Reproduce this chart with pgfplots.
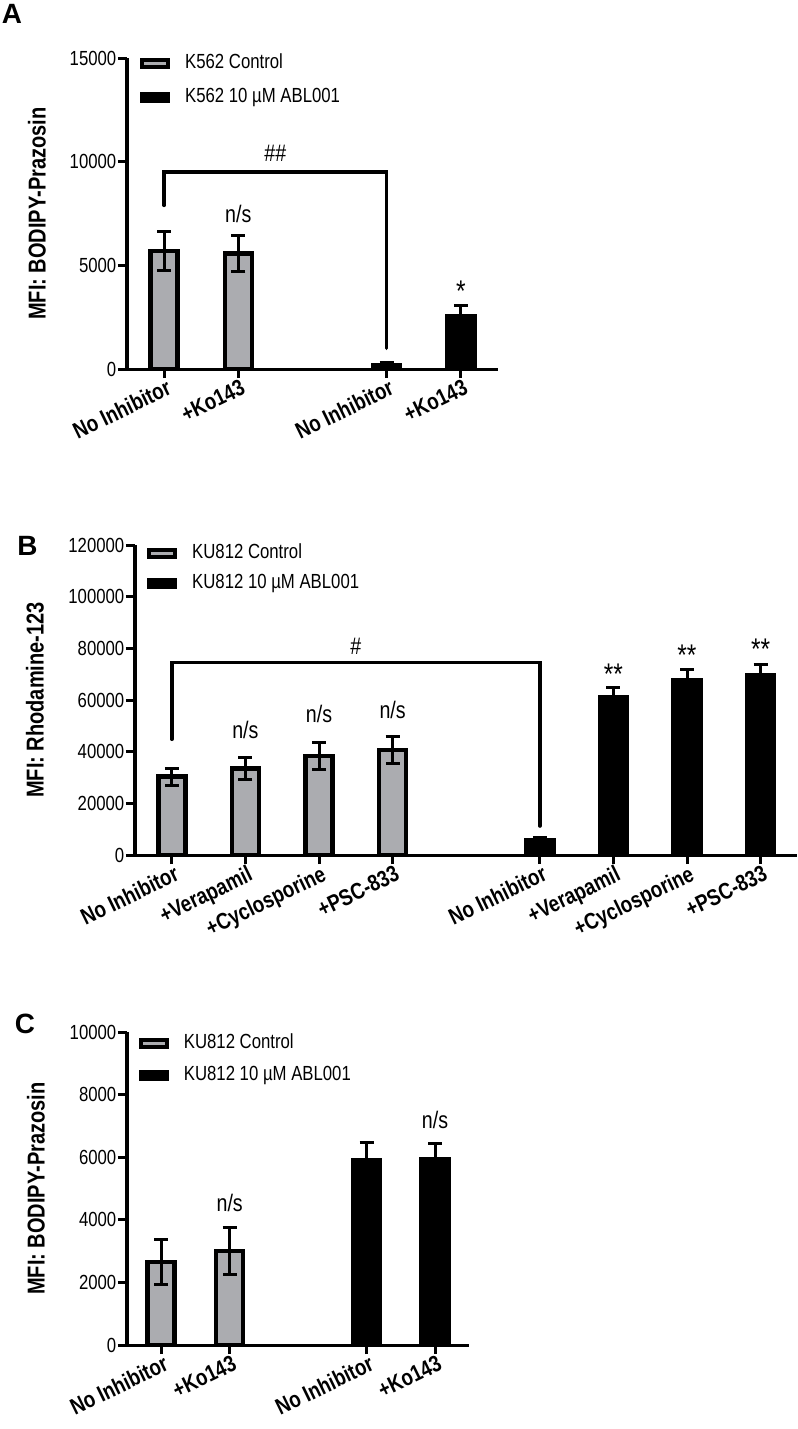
\documentclass[border=0pt]{standalone}
\usepackage{fontspec}
\setmainfont{Liberation Sans}
\newfontfamily\narrowfont[FakeStretch=0.82]{Liberation Sans}
\usepackage{pgfplots}
\pgfplotsset{compat=1.18}
\pgfkeys{/pgf/number format/.cd, fixed, 1000 sep={}, assume math mode=true}
\definecolor{bargray}{RGB}{171,172,176}

\tikzset{
  ann/.style={font=\narrowfont\fontsize{24}{26}\selectfont},
  star/.style={font=\narrowfont\fontsize{30}{32}\selectfont, yshift=-6bp},
}
\pgfplotsset{
  panel/.style={
    scale only axis, anchor=south west,
    axis x line*=bottom, axis y line*=left,
    axis line style={-, line width=3bp, black},
    tick align=outside, major tick length=9bp,
    every tick/.style={black, line width=3bp},
    ymin=0, xmin=-0.5,
    scaled y ticks=false,
    y tick label style={font=\narrowfont\fontsize{20.5}{21}\selectfont, inner xsep=1.5bp,
      /pgf/number format/fixed, /pgf/number format/1000 sep={}, /pgf/number format/assume math mode=true},
    x tick label style={font=\narrowfont\bfseries\fontsize{23}{24}\selectfont, rotate=26, anchor=north east, inner sep=1bp, xshift=2bp},
    ylabel style={font=\narrowfont\bfseries\fontsize{24.5}{26}\selectfont, anchor=center},
    clip=false,
    legend cell align=left,
    legend style={draw=none, fill=none, inner sep=0pt,
      font=\narrowfont\fontsize{20.5}{21}\selectfont,
      nodes={inner sep=0pt, text height=14bp, text depth=4bp},
      column sep=15bp, anchor=north west},
  },
  mylegend/.style={legend image code/.code={\draw[##1, line width=4bp] (0bp,-3.5bp) rectangle (26bp,3.5bp);}},
  graybar/.style={ybar, bar width=27bp, bar shift=0pt, fill=bargray, draw=black, line width=4.5bp,
    error bars/y dir=both, error bars/y explicit,
    error bars/error bar style={line width=3bp, black},
    error bars/error mark options={rotate=90, mark size=7bp, line width=3bp, black},
    mylegend},
  blackbar/.style={ybar, bar width=27bp, bar shift=0pt, fill=black, draw=black, line width=4.5bp,
    error bars/y dir=both, error bars/y explicit,
    error bars/error bar style={line width=3bp, black},
    error bars/error mark options={rotate=90, mark size=7bp, line width=3bp, black},
    mylegend},
  bracket/.style={black, line width=3.5bp, line cap=round, line join=miter, forget plot, mark=none},
}

\begin{document}
\begin{tikzpicture}
\useasboundingbox (0,0) rectangle (798bp,-1429bp);

% ---------------- Panel A ----------------
\begin{axis}[panel,
  at={(127bp,-369bp)}, width=371bp, height=310.7bp,
  xmax=4.5, ymax=15000,
  ytick={0,5000,10000,15000},
  xtick={0,1,3,4},
  xticklabels={No Inhibitor,+Ko143,No Inhibitor,+Ko143},
  ylabel={MFI: BODIPY-Prazosin},
  ylabel style={at={(rel axis cs:-0.2426,0.5)}},
  legend style={at={(rel axis cs:0.0350,1.0138)}, row sep=16bp},
]
\addplot[graybar] coordinates {(0,5700) +- (0,950) (1,5580) +- (0,880)};
\addlegendentry{K562 Control}
\addplot[blackbar] coordinates {(3,200) +- (0,100) (4,2560) +- (0,530)};
\addlegendentry{K562 10 µM ABL001}
\addplot[bracket] coordinates {(0,7900) (0,9500) (3,9500) (3,1000)};
\node[ann] at (axis cs:1.5,10400) {\#\#};
\node[ann] at (axis cs:1,7500) {n/s};
\node[star] at (axis cs:4,4050) {*};
\node[font=\bfseries\fontsize{28}{30}\selectfont] at (rel axis cs:-0.310,1.1426) {A};
\end{axis}

% ---------------- Panel B ----------------
\begin{axis}[panel,
  at={(135bp,-855bp)}, width=662.4bp, height=310bp,
  xmax=8.5, ymax=120000,
  ytick={0,20000,40000,60000,80000,100000,120000},
  xtick={0,1,2,3,5,6,7,8},
  xticklabels={No Inhibitor,+Verapamil,+Cyclosporine,+PSC-833,No Inhibitor,+Verapamil,+Cyclosporine,+PSC-833},
  ylabel={MFI: Rhodamine-123},
  ylabel style={at={(rel axis cs:-0.151,0.5)}},
  legend style={at={(rel axis cs:0.0181,1.0023)}, row sep=12bp},
]
\addplot[graybar] coordinates {(0,30300) +- (0,3200) (1,33500) +- (0,4100) (2,38300) +- (0,5300) (3,40600) +- (0,5300)};
\addlegendentry{KU812 Control}
\addplot[blackbar] coordinates {(5,5800) +- (0,900) (6,60900) +- (0,3900) (7,67500) +- (0,4400) (8,69700) +- (0,4100)};
\addlegendentry{KU812 10 µM ABL001}
\addplot[bracket] coordinates {(0,44800) (0,74600) (5,74600) (5,11200)};
\node[ann] at (axis cs:2.5,80900) {\#};
\node[ann] at (axis cs:1,48400) {n/s};
\node[ann] at (axis cs:2,54600) {n/s};
\node[ann] at (axis cs:3,56100) {n/s};
\node[star] at (axis cs:6,72500) {**};
\node[star] at (axis cs:7,79700) {**};
\node[star] at (axis cs:8,81900) {**};
\node[font=\bfseries\fontsize{28}{30}\selectfont] at (rel axis cs:-0.1623,0.998) {B};
\end{axis}

% ---------------- Panel C ----------------
\begin{axis}[panel,
  at={(127bp,-1345bp)}, width=342.3bp, height=312.7bp,
  xmax=4.5, ymax=10000,
  ytick={0,2000,4000,6000,8000,10000},
  xtick={0,1,3,4},
  xticklabels={No Inhibitor,+Ko143,No Inhibitor,+Ko143},
  ylabel={MFI: BODIPY-Prazosin},
  ylabel style={at={(rel axis cs:-0.2658,0.5)}},
  legend style={at={(rel axis cs:0.0342,0.9936)}, row sep=13.7bp},
]
\addplot[graybar] coordinates {(0,2650) +- (0,730) (1,3010) +- (0,750)};
\addlegendentry{KU812 Control}
\addplot[blackbar] coordinates {(3,5900) +- (0,580) (4,5950) +- (0,490)};
\addlegendentry{KU812 10 µM ABL001}
\node[ann] at (axis cs:1,4550) {n/s};
\node[ann] at (axis cs:4,7195) {n/s};
\node[font=\bfseries\fontsize{28}{30}\selectfont] at (rel axis cs:-0.298,1.0265) {C};
\end{axis}
\end{tikzpicture}
\end{document}
